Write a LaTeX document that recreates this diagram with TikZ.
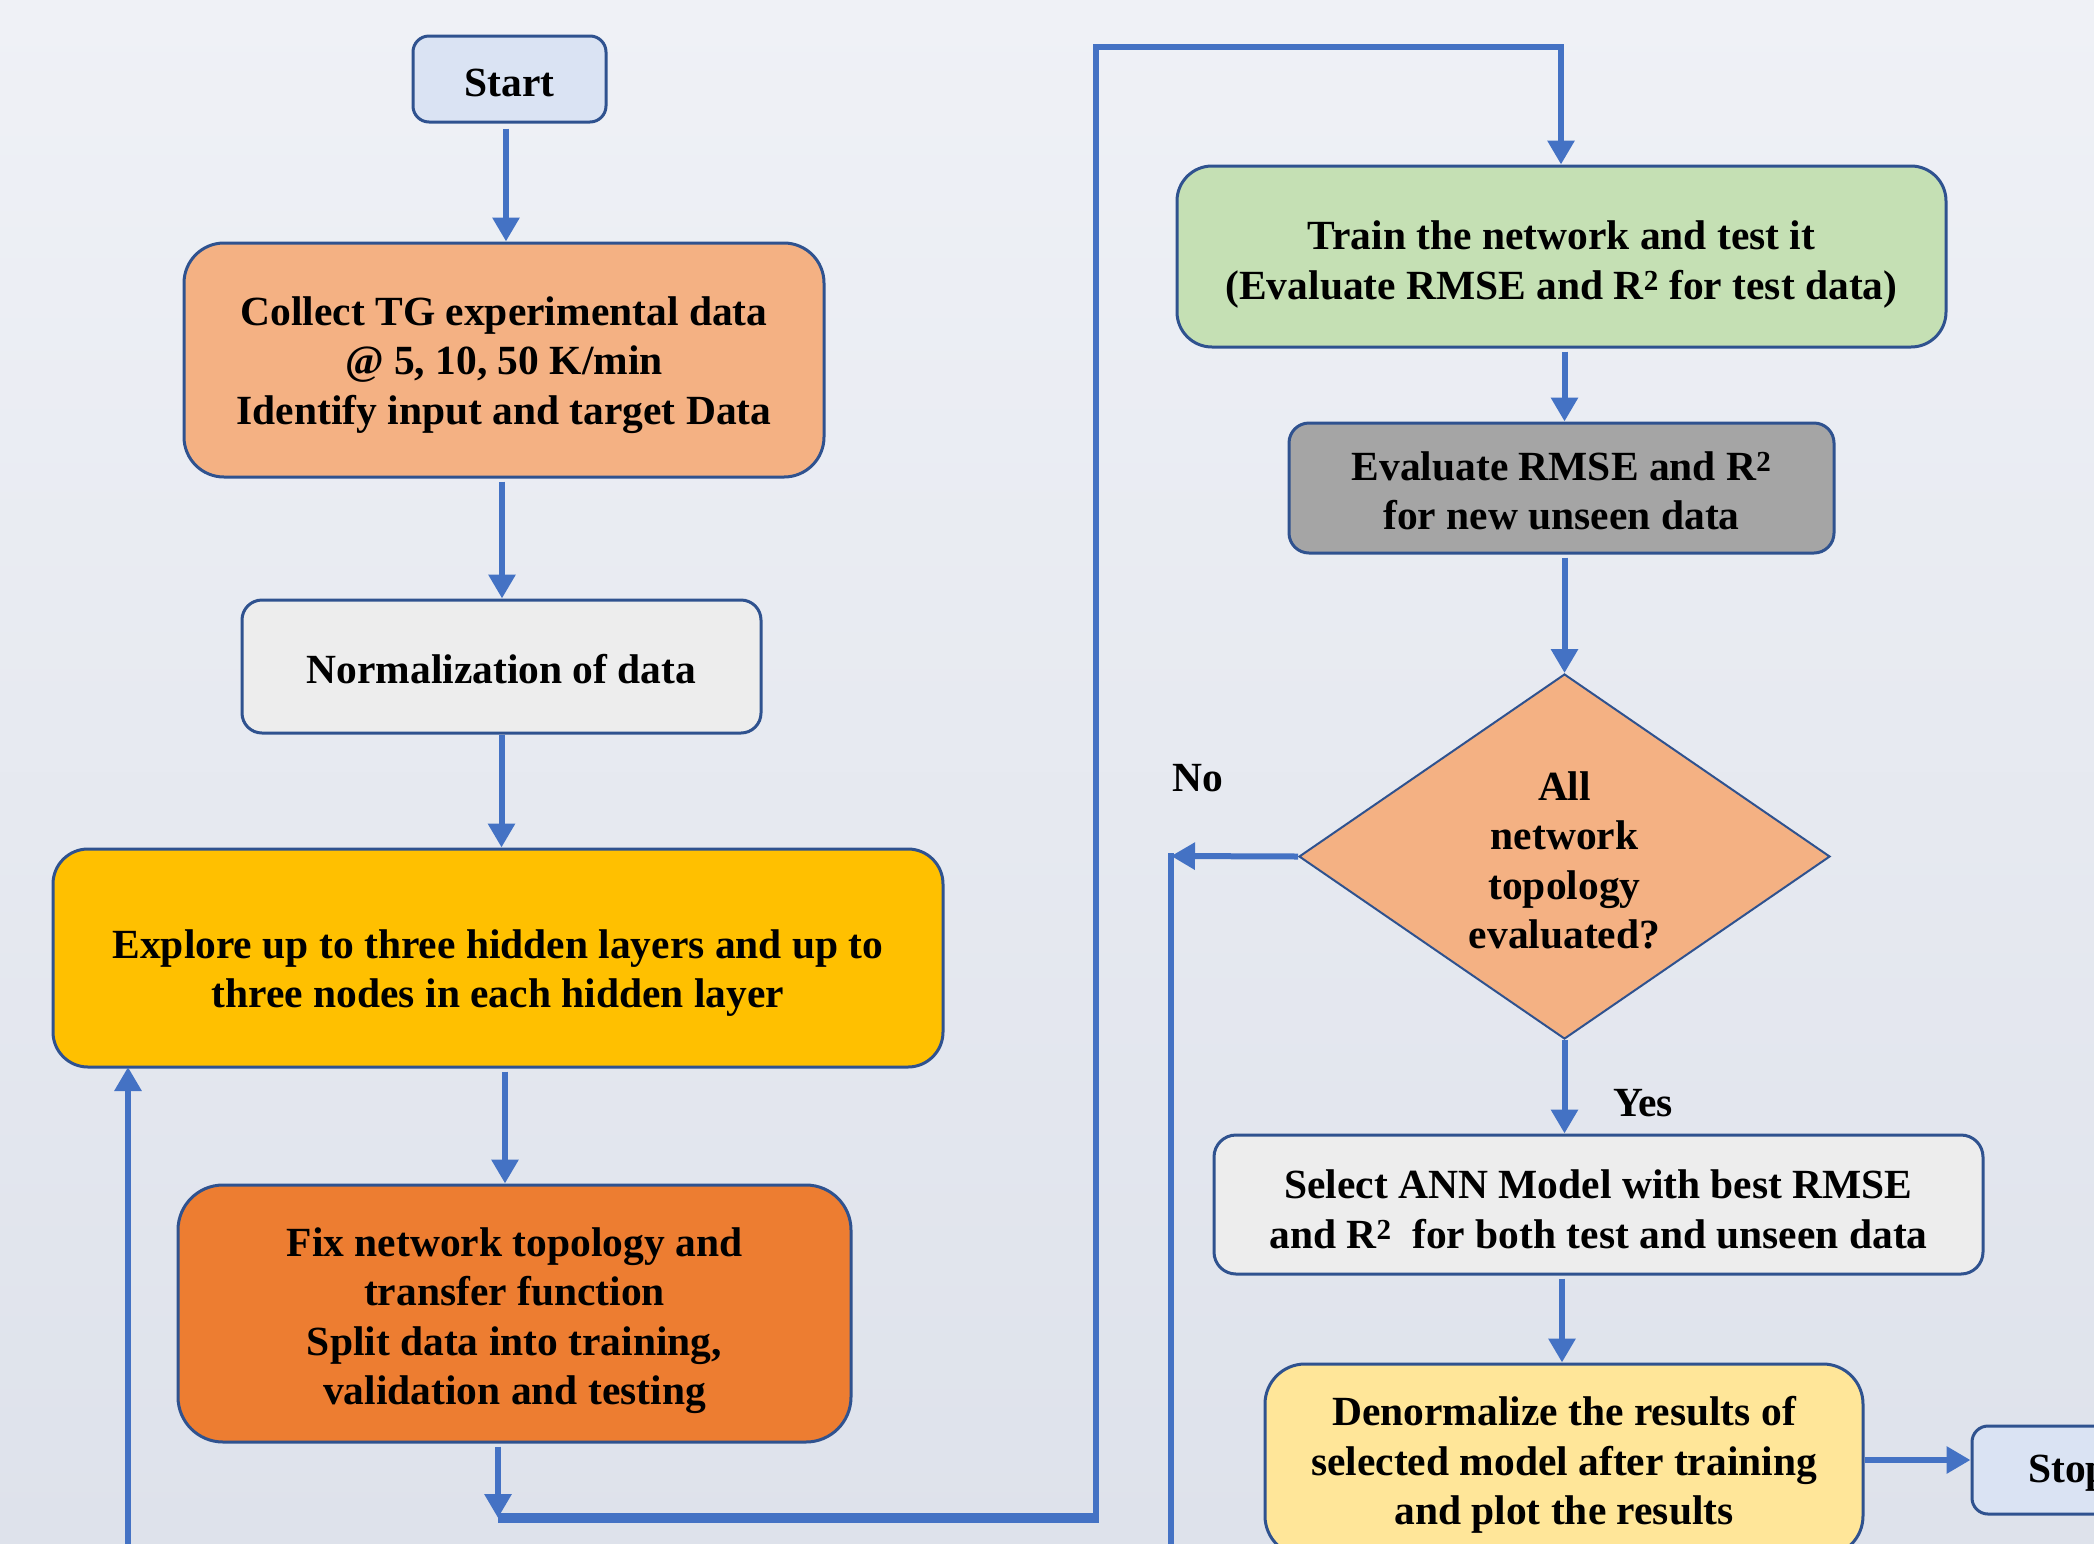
\documentclass[tikz,border=0pt]{standalone}
\usepackage{fontspec}
\setmainfont{Liberation Serif}
\usetikzlibrary{shapes.geometric,arrows.meta,calc}
\definecolor{bord}{HTML}{2F528F}
\definecolor{arr}{HTML}{4472C4}
\definecolor{bgtop}{HTML}{EFF1F6}
\definecolor{bgbot}{HTML}{DEE2EB}
\definecolor{cblue}{HTML}{DAE3F3}
\definecolor{cpeach}{HTML}{F4B183}
\definecolor{cgray}{HTML}{EDEDED}
\definecolor{cgold}{HTML}{FFC000}
\definecolor{corange}{HTML}{ED7D31}
\definecolor{cgreen}{HTML}{C5E0B4}
\definecolor{cdgray}{HTML}{A5A5A5}
\definecolor{cyellow}{HTML}{FFE699}
\tikzset{
  box/.style={draw=bord, line width=3pt, rectangle, inner sep=0pt},
  txt/.style={align=center, inner sep=0pt, font=\fontsize{41.5}{49.5}\selectfont\bfseries, text=black},
  conn/.style={draw=arr, line width=6pt},
  arrow/.style={conn, -{Triangle[length=24pt,width=26pt]}},
  lbl/.style={font=\fontsize{41.5}{49.5}\selectfont\bfseries, text=black, inner sep=0pt}
}
\begin{document}
\begin{tikzpicture}[x=1pt,y=-1pt]
\useasboundingbox (0,0) rectangle (2094,1543);
\clip (0,0) rectangle (2094,1543);
\shade[top color=bgtop, bottom color=bgbot] (0,0) rectangle (2094,1543);

% boxes
\node[box, fill=cblue, minimum width=193pt, minimum height=86pt, rounded corners=16pt] (start) at (509.5,79) {};
\node[box, fill=cpeach, minimum width=640pt, minimum height=234pt, rounded corners=40pt] (collect) at (504,360) {};
\node[box, fill=cgray, minimum width=519pt, minimum height=133pt, rounded corners=20pt] (norm) at (501.5,666.5) {};
\node[box, fill=cgold, minimum width=890pt, minimum height=218pt, rounded corners=35pt] (explore) at (498,958) {};
\node[box, fill=corange, minimum width=673pt, minimum height=257pt, rounded corners=45pt] (fix) at (514.5,1313.5) {};
\node[box, fill=cgreen, minimum width=769pt, minimum height=181pt, rounded corners=35pt] (train) at (1561.5,256.5) {};
\node[box, fill=cdgray, minimum width=545pt, minimum height=130pt, rounded corners=20pt] (eval) at (1561.5,488) {};
\node[box, diamond, line width=2pt, fill=cpeach, minimum width=531pt, minimum height=365pt] (dec) at (1564.5,856.5) {};
\node[box, fill=cgray, minimum width=769pt, minimum height=139pt, rounded corners=22pt] (select) at (1598.5,1204.5) {};
\node[box, fill=cyellow, minimum width=598pt, minimum height=192pt, rounded corners=40pt] (denorm) at (1564,1460) {};
\node[box, fill=cblue, minimum width=193pt, minimum height=88pt, rounded corners=16pt] (stop) at (2068.5,1470) {};

% texts
\node[txt] (start-t) at ($(start)+(0,4)$) {Start};
\node[txt] (collect-t) at ($(collect)+(0,5)$) {Collect TG experimental data\\@ 5, 10, 50 K/min\\Identify input and target Data};
\node[txt] (norm-t) at ($(norm)+(0,3)$) {Normalization of data};
\node[txt] (explore-t) at ($(explore)+(0,15)$) {Explore up to three hidden layers and up to\\three nodes in each hidden layer};
\node[txt] (fix-t) at ($(fix)+(0,7)$) {Fix network topology and\\transfer function\\Split data into training,\\validation and testing};
\node[txt] (train-t) at ($(train)+(0,8)$) {Train the network and test it\\(Evaluate RMSE and R\textsuperscript{2} for test data)};
\node[txt] (eval-t) at ($(eval)+(0,3)$) {Evaluate RMSE and R\textsuperscript{2}\\for new unseen data};
\node[txt] (dec-t) at ($(dec)+(0,4)$) {All\\network\\topology\\evaluated?};
\node[txt] (select-t) at ($(select)+(0,5)$) {Select ANN Model with best RMSE\\and R\textsuperscript{2}\ \ for both test and unseen data};
\node[txt] (denorm-t) at ($(denorm)+(0,5)$) {Denormalize the results of\\selected model after training\\and plot the results};
\node[txt] (stop-t) at ($(stop)+(0,3)$) {Stop};

\node[lbl] (no) at (1198,778) {No};
\node[lbl] (yes) at (1643,1103) {Yes};

% helper coordinates
\coordinate (c1) at (498,1518);
\coordinate (c2) at (1096,1518);
\coordinate (c3) at (1096,47);
\coordinate (c4) at (1561,47);
\coordinate (n1) at (1171,856);
\coordinate (n2) at (1171,1600);
\coordinate (l1) at (128,1600);
\coordinate (l2) at (128,1067);

% connectors
\draw[arrow] ($(start.south)+(-3.5,5)$) -- ($(start.south |- collect.north)+(-3.5,0)$);
\draw[arrow] ($(collect.south)+(-2,3)$) -- ($(collect.south |- norm.north)+(-2,0)$);
\draw[arrow] (norm.south) -- (norm.south |- explore.north);
\draw[arrow] ($(explore.south)+(7,3)$) -- ($(explore.south |- fix.north)+(7,0)$);
\draw[arrow] ($(c1 |- fix.south)+(0,3)$) -- (c1);
\draw[conn, line width=10pt] (c1) -- ($(c2)+(3,0)$);
\draw[arrow] (c2) -- (c3) -- (c4) -- (c4 |- train.north);
\draw[arrow] ($(train.south)+(3,3)$) -- ($(train.south |- eval.north)+(3,0)$);
\draw[arrow] ($(dec.north |- eval.south)+(0,3)$) -- (dec.north);
\draw[arrow] (dec.south) -- (dec.south |- select.north);
\draw[arrow] (dec.west) -- (n1);
\draw[conn] ($(n1)+(0,-3)$) -- (n2) -- (l1);
\draw[arrow] (l1) -- (l2);
\draw[arrow] ($(denorm.north |- select.south)+(-2,3)$) -- ($(denorm.north)+(-2,0)$);
\draw[arrow] (denorm.east) -- (denorm.east -| stop.west);
\end{tikzpicture}
\end{document}
